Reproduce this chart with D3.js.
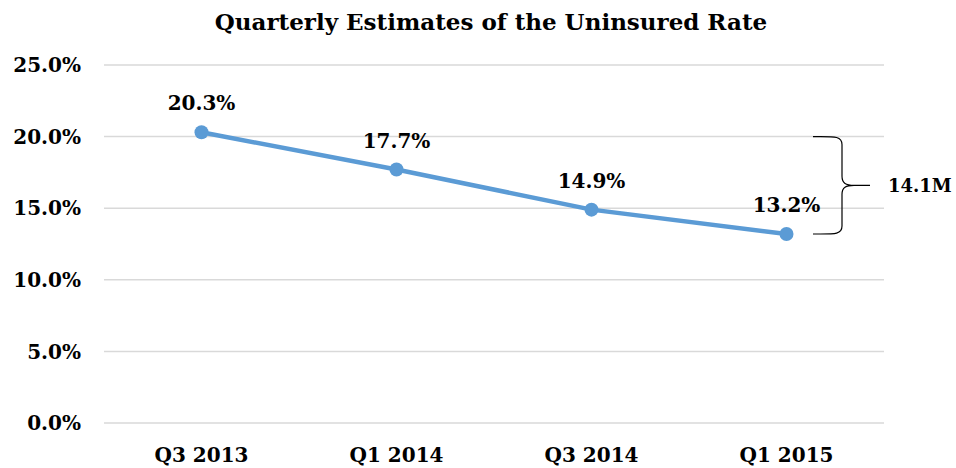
<!DOCTYPE html>
<html>
<head>
<meta charset="utf-8">
<script src="https://cdn.jsdelivr.net/npm/d3@7"></script>
<style>
  body { margin: 0; background: #fff; }
  text { font-family: "DejaVu Serif", serif; font-weight: bold; fill: #000; }
</style>
</head>
<body>
<svg class="chart"></svg>
<script>
var quarters = ["Q3 2013", "Q1 2014", "Q3 2014", "Q1 2015"];
var rates = [20.3, 17.7, 14.9, 13.2];
var yTicks = [0, 5, 10, 15, 20, 25];
var bracketLabel = "14.1M";

var width = 956;
var height = 468;
var margin = {top: 65, right: 72, bottom: 45, left: 104};

var svg = d3.select(".chart").attr("width", width).attr("height", height);

var x = d3.scaleBand().domain(quarters).range([margin.left, width - margin.right]);
var y = d3.scaleLinear().domain([0, 25]).range([height - margin.bottom, margin.top]);

svg.append("text").
    attr("x", 491).
    attr("y", 30).
    attr("text-anchor", "middle").
    style("font-size", "23px").
    text("Quarterly Estimates of the Uninsured Rate");

// gridlines
svg.append("g").selectAll("line").data(yTicks).enter().append("line").
    attr("x1", margin.left).
    attr("x2", width - margin.right).
    attr("y1", function(d) { return y(d); }).
    attr("y2", function(d) { return y(d); }).
    attr("stroke", "#d9d9d9").
    attr("stroke-width", 1.5);

// y axis labels
svg.append("g").selectAll("text").data(yTicks).enter().append("text").
    attr("x", 81).
    attr("y", function(d) { return y(d); }).
    attr("dy", "0.36em").
    attr("text-anchor", "end").
    style("font-size", "20px").
    text(function(d) { return d.toFixed(1) + "%"; });

// x axis labels
svg.append("g").selectAll("text").data(quarters).enter().append("text").
    attr("x", function(d) { return x(d) + x.bandwidth() / 2; }).
    attr("y", 462).
    attr("text-anchor", "middle").
    style("font-size", "20px").
    text(function(d) { return d; });

var cx = function(d, i) { return x(quarters[i]) + x.bandwidth() / 2; };

var line = d3.line().
    x(function(d, i) { return cx(d, i); }).
    y(function(d) { return y(d); });

svg.append("path").datum(rates).
    attr("d", line).
    attr("fill", "none").
    attr("stroke", "#5b9bd5").
    attr("stroke-width", 4.5).
    attr("stroke-linejoin", "round");

svg.append("g").selectAll("circle").data(rates).enter().append("circle").
    attr("cx", cx).
    attr("cy", function(d) { return y(d); }).
    attr("r", 7).
    attr("fill", "#5b9bd5");

// data labels
svg.append("g").selectAll("text").data(rates).enter().append("text").
    attr("x", cx).
    attr("y", function(d) { return y(d) - 22; }).
    attr("text-anchor", "middle").
    style("font-size", "20px").
    text(function(d) { return d.toFixed(1) + "%"; });

// bracket spanning 20% down to the last point
var bTop = y(20), bBot = y(rates[rates.length - 1]);
var bx = 813, vx = 842, tip = 870, bMid = (bTop + bBot) / 2;
svg.append("path").
    attr("d", "M" + bx + "," + bTop +
        " C" + (vx - 8) + "," + bTop + " " + vx + "," + (bTop - 1) + " " + vx + "," + (bTop + 8) +
        " L" + vx + "," + (bMid - 9) +
        " C" + vx + "," + (bMid - 2) + " " + (vx + 4) + "," + bMid + " " + (vx + 12) + "," + bMid +
        " L" + tip + "," + bMid +
        " M" + (vx + 12) + "," + bMid +
        " C" + (vx + 4) + "," + bMid + " " + vx + "," + (bMid + 2) + " " + vx + "," + (bMid + 9) +
        " L" + vx + "," + (bBot - 8) +
        " C" + vx + "," + (bBot + 1) + " " + (vx - 8) + "," + bBot + " " + bx + "," + bBot).
    attr("fill", "none").
    attr("stroke", "#000").
    attr("stroke-width", 1.2);

svg.append("text").
    attr("x", 888).
    attr("y", bMid).
    attr("dy", "0.36em").
    style("font-size", "18px").
    text(bracketLabel);
</script>
</body>
</html>
